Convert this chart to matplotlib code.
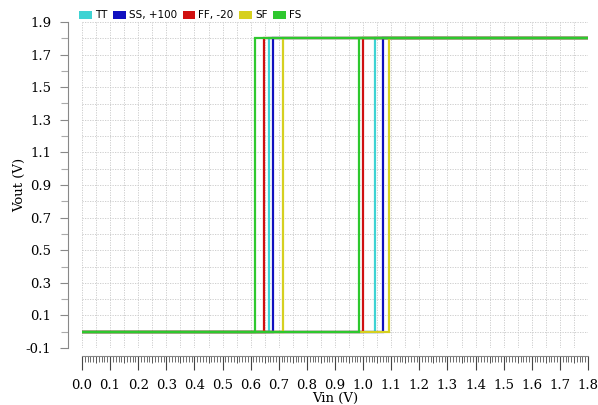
import matplotlib.pyplot as plt
import matplotlib.transforms as mtransforms
from matplotlib.patches import Patch
from matplotlib.ticker import MultipleLocator, FixedLocator

# corner names and switching points of each sweep
corners = ['TT', 'SS, +100', 'FF, -20', 'SF', 'FS']
colors = ['#3fd3d3', '#1010c0', '#d01010', '#d6d020', '#2ec82e']
vin_fall = [0.665, 0.679, 0.647, 0.715, 0.615]   # output goes high on the way down
vin_rise = [1.042, 1.071, 0.999, 1.092, 0.985]   # output goes high on the way up
vdd = 1.8

fig = plt.figure(figsize=(5.98, 4.05), dpi=100)
ax = fig.add_axes([82 / 598, 1 - 348 / 405, 506 / 598, 326 / 405])

for name, c, a, b in zip(corners, colors, vin_fall, vin_rise):
    xs = [0, b, b, vdd, a, a, 0]
    ys = [0, 0, vdd, vdd, vdd, 0, 0]
    ax.plot(xs, ys, color=c, lw=1.6, solid_joinstyle='miter')

ax.set_xlim(0, 1.8)
ax.set_ylim(-0.1, 1.9)

# dotted grid
for gx in [i * 0.05 for i in range(37)]:
    ax.axvline(gx, color='#c8c8c8', lw=0.6, ls=(0, (1.5, 1.5)), zorder=0)
for gy in [-0.1 + i * 0.1 for i in range(21)]:
    ax.axhline(gy, color='#c8c8c8', lw=0.6, ls=(0, (1.5, 1.5)), zorder=0)

for s in ['top', 'right']:
    ax.spines[s].set_visible(False)
ax.spines['left'].set_position(('outward', 10))
ax.spines['bottom'].set_position(('outward', 6))
for s in ['left', 'bottom']:
    ax.spines[s].set_color('#888888')
    ax.spines[s].set_linewidth(0.8)

serif = {'family': 'DejaVu Serif', 'size': 9.5}
ax.set_xticks([i * 0.1 for i in range(19)])
ax.set_xticklabels([f'{i * 0.1:.1f}' for i in range(19)], fontdict=serif)
ax.xaxis.set_minor_locator(MultipleLocator(0.01))
yt = [-0.1 + i * 0.2 for i in range(11)]
ax.set_yticks(yt)
ax.set_yticklabels([f'{v:.1f}' for v in yt], fontdict=serif)
ax.yaxis.set_minor_locator(FixedLocator([i * 0.2 for i in range(10)]))

ax.tick_params(axis='x', which='major', direction='out', length=10, width=0.8,
               color='#444444', pad=6)
ax.tick_params(axis='x', which='minor', direction='out', length=4, width=0.6,
               color='#555555')
ax.tick_params(axis='y', which='major', direction='out', length=6, width=0.8,
               color='#888888', pad=6)
ax.tick_params(axis='y', which='minor', direction='out', length=5, width=0.8,
               color='#aaaaaa')

# medium ticks at the half steps of the x ruler
base = mtransforms.blended_transform_factory(ax.transData, ax.transAxes)
shift = mtransforms.ScaledTranslation(0, -6 / 72, fig.dpi_scale_trans)
half = [0.05 + i * 0.1 for i in range(18)]
ax.vlines(half, 0, -0.02, transform=base + shift, color='#555555', lw=0.7,
          clip_on=False)

ax.set_xlabel('Vin (V)', fontdict=serif, labelpad=0)
ax.set_ylabel('Vout (V)', fontdict=serif, labelpad=0)

handles = [Patch(facecolor=c, edgecolor='none', label=n) for n, c in zip(corners, colors)]
ax.legend(handles=handles, loc='lower left', bbox_to_anchor=(-0.005, 1.005), ncol=5,
          frameon=False, fontsize=7.5, handlelength=1.2, handleheight=0.8,
          handletextpad=0.3, columnspacing=0.55, borderaxespad=0, borderpad=0)

fig.savefig('out.png', dpi=100)
